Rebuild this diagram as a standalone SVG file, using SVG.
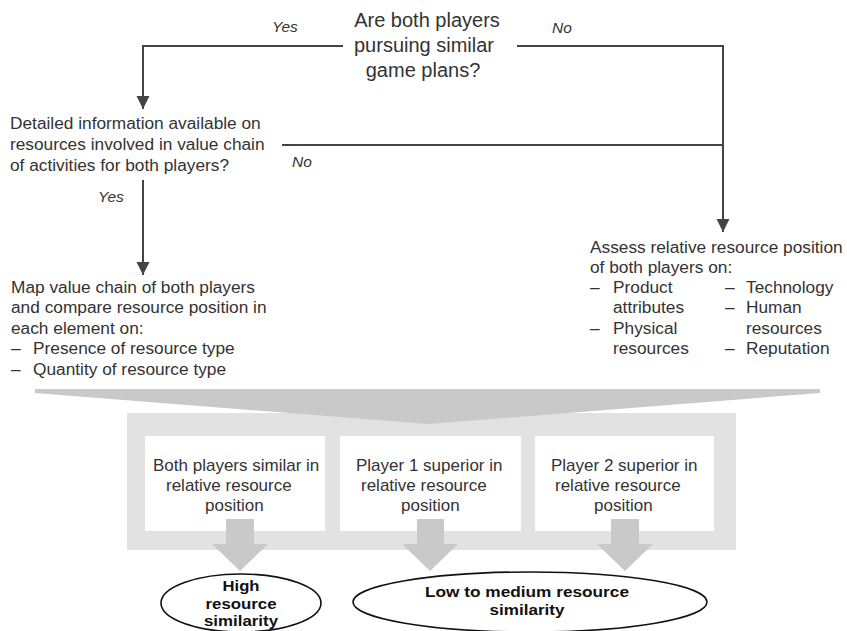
<svg xmlns="http://www.w3.org/2000/svg" width="847" height="631" viewBox="0 0 847 631">
  <defs>
    <marker id="arrowhead" markerUnits="userSpaceOnUse" markerWidth="14" markerHeight="14" viewBox="0 0 14 14" refX="13" refY="7" orient="auto">
      <path d="M0,0.5 L13,7 L0,13.5 Z" fill="#444"/>
    </marker>
    <style>
      .txt { font-family: "Liberation Sans", Arial, sans-serif; font-size: 17.3px; fill: #333; }
      .title { font-family: "Liberation Sans", Arial, sans-serif; font-size: 20px; fill: #333; text-anchor: middle; }
      .lbl { font-family: "Liberation Sans", Arial, sans-serif; font-size: 15.5px; font-style: italic; fill: #333; }
      .box-txt { font-family: "Liberation Sans", Arial, sans-serif; font-size: 17px; fill: #333; }
      .out-txt { font-family: "Liberation Sans", Arial, sans-serif; font-size: 15.5px; font-weight: bold; fill: #111; text-anchor: middle; }
      .conn { fill: none; stroke: #444; stroke-width: 2; }
      .wedge { fill: #c9c9c9; }
      .frame { fill: #e2e2e2; }
      .box { fill: #ffffff; }
      .down { fill: #c9c9c9; }
      .outcome { fill: #ffffff; stroke: #111; stroke-width: 1.6; }
    </style>
  </defs>

  <!-- decision and step texts -->
  <g id="q-game-plans">
    <text class="title" x="427" y="27">Are both players</text>
    <text class="title" x="424" y="52">pursuing similar</text>
    <text class="title" x="423" y="77">game plans?</text>
  </g>

  <g id="q-detailed-info">
    <text class="txt" x="10" y="129">Detailed information available on</text>
    <text class="txt" x="10" y="150">resources involved in value chain</text>
    <text class="txt" x="10" y="171">of activities for both players?</text>
  </g>

  <g id="map-value-chain">
    <text class="txt" x="11" y="293">Map value chain of both players</text>
    <text class="txt" x="11" y="313">and compare resource position in</text>
    <text class="txt" x="11" y="334">each element on:</text>
    <text class="txt" x="11" y="354">–</text>
    <text class="txt" x="33" y="354">Presence of resource type</text>
    <text class="txt" x="11" y="375">–</text>
    <text class="txt" x="33" y="375">Quantity of resource type</text>
  </g>

  <g id="assess-position">
    <text class="txt" x="590" y="253">Assess relative resource position</text>
    <text class="txt" x="590" y="273">of both players on:</text>
    <text class="txt" x="590" y="293">–</text>
    <text class="txt" x="613" y="293">Product</text>
    <text class="txt" x="613" y="313">attributes</text>
    <text class="txt" x="590" y="334">–</text>
    <text class="txt" x="613" y="334">Physical</text>
    <text class="txt" x="613" y="354">resources</text>
    <text class="txt" x="725" y="293">–</text>
    <text class="txt" x="746" y="293">Technology</text>
    <text class="txt" x="725" y="313">–</text>
    <text class="txt" x="746" y="313">Human</text>
    <text class="txt" x="746" y="334">resources</text>
    <text class="txt" x="725" y="354">–</text>
    <text class="txt" x="746" y="354">Reputation</text>
  </g>

  <!-- flow connectors -->
  <g id="connectors">
    <path class="conn" d="M343,46 H143 V109" marker-end="url(#arrowhead)"/>
    <path class="conn" d="M517,46 H723 V232" marker-end="url(#arrowhead)"/>
    <path class="conn" d="M282,145 H723"/>
    <path class="conn" d="M143,180 V275" marker-end="url(#arrowhead)"/>
    <text class="lbl" x="272" y="32">Yes</text>
    <text class="lbl" x="552" y="33">No</text>
    <text class="lbl" x="292" y="167">No</text>
    <text class="lbl" x="98" y="202">Yes</text>
  </g>

  <!-- assessment band -->
  <g id="assessment">
    <rect class="frame" x="127" y="413" width="609" height="137"/>
    <polygon class="wedge" points="35,389 820,389 820,393 428,424 35,393"/>
  </g>

  <g id="box-similar">
    <rect class="box" x="145" y="436" width="180" height="95"/>
    <text class="box-txt" x="153" y="471">Both players similar in</text>
    <text class="box-txt" x="166" y="491">relative resource</text>
    <text class="box-txt" x="205" y="511">position</text>
  </g>

  <g id="box-player1">
    <rect class="box" x="340" y="436" width="181" height="95"/>
    <text class="box-txt" x="356" y="471">Player 1 superior in</text>
    <text class="box-txt" x="361" y="491">relative resource</text>
    <text class="box-txt" x="401" y="511">position</text>
  </g>

  <g id="box-player2">
    <rect class="box" x="535" y="436" width="179" height="95"/>
    <text class="box-txt" x="551" y="471">Player 2 superior in</text>
    <text class="box-txt" x="555" y="491">relative resource</text>
    <text class="box-txt" x="594" y="511">position</text>
  </g>

  <!-- block arrows into outcomes -->
  <g id="outcome-arrows">
    <polygon class="down" points="226,519 254,519 254,544 268,544 240,571 212,544 226,544"/>
    <polygon class="down" points="417,519 444,519 444,544 458,544 430,571 402,544 417,544"/>
    <polygon class="down" points="611,519 639,519 639,544 653,544 625,571 597,544 611,544"/>
  </g>

  <g id="outcome-high">
    <ellipse class="outcome" cx="241" cy="603" rx="80" ry="29"/>
    <text class="out-txt" x="241" y="591" textLength="37" lengthAdjust="spacingAndGlyphs">High</text>
    <text class="out-txt" x="241" y="608.5" textLength="71" lengthAdjust="spacingAndGlyphs">resource</text>
    <text class="out-txt" x="241" y="626" textLength="74" lengthAdjust="spacingAndGlyphs">similarity</text>
  </g>

  <g id="outcome-low">
    <ellipse class="outcome" cx="530" cy="602" rx="177" ry="30"/>
    <text class="out-txt" x="527" y="597" textLength="204" lengthAdjust="spacingAndGlyphs">Low to medium resource</text>
    <text class="out-txt" x="527" y="615" textLength="75" lengthAdjust="spacingAndGlyphs">similarity</text>
  </g>
</svg>
